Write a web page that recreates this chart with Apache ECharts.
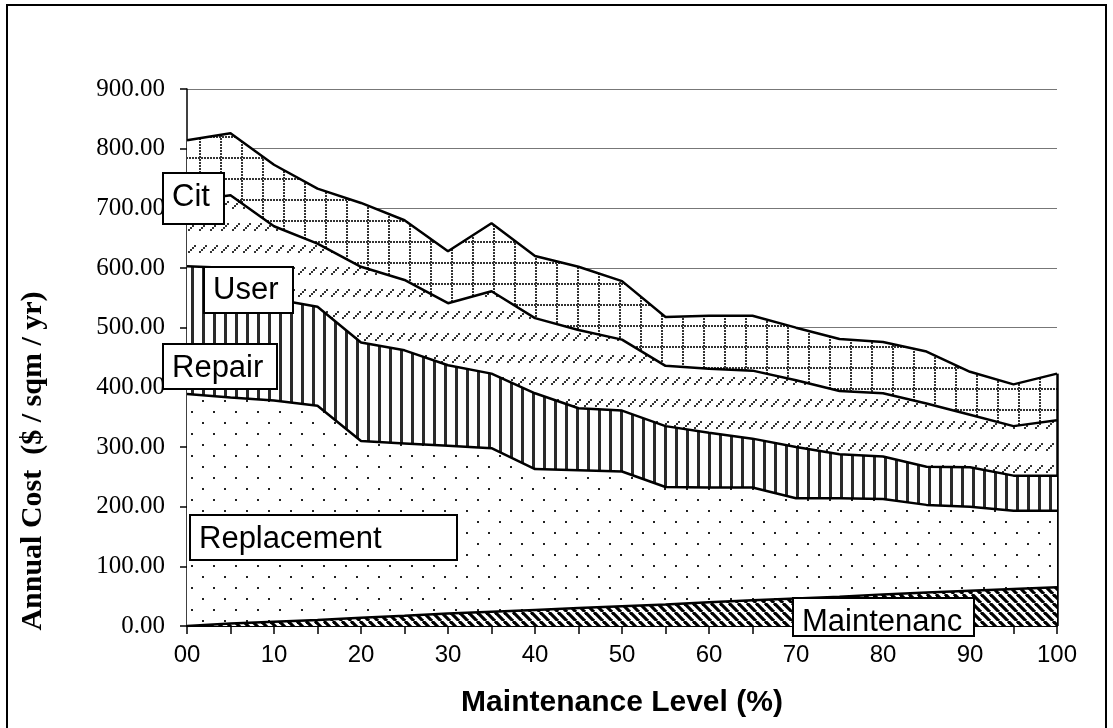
<!DOCTYPE html>
<html>
<head>
<meta charset="utf-8">
<script src="https://cdn.jsdelivr.net/npm/echarts@6/dist/echarts.min.js"></script>
<style>
html, body { margin: 0; padding: 0; background: #fff; }
#chart { width: 1113px; height: 728px; }
</style>
</head>
<body>
<div id="chart"></div>
<script>
// 数据
var levels = ['00','05','10','15','20','25','30','35','40','45','50','55','60','65','70','75','80','85','90','95','100'];
var yTickLabels = ['0.00','100.00','200.00','300.00','400.00','500.00','600.00','700.00','800.00','900.00'];
var maintenance = [0, 4, 7, 10, 14, 17, 21, 24, 27, 30, 33, 36, 40, 43, 46, 49, 53, 56, 59, 62, 65];
var replacement = [389, 379, 371, 359, 296, 289, 281, 274, 236, 231, 226, 197, 192, 189, 168, 165, 160, 147, 141, 131, 128];
var repair = [214, 217, 170, 166, 165, 156, 135, 125, 127, 104, 102, 102, 92, 82, 86, 74, 71, 64, 66, 59, 59];
var user = [109, 122, 122, 106, 127, 118, 104, 138, 126, 131, 119, 101, 107, 114, 112, 106, 106, 106, 88, 83, 93];
var cit = [102, 104, 103, 92, 107, 100, 87, 114, 104, 106, 98, 82, 89, 92, 88, 87, 86, 87, 72, 70, 78];

(function() {
    // 填充图案
    function tile(w, h, draw) {
        var c = document.createElement('canvas');
        c.width = w; c.height = h;
        var g = c.getContext('2d');
        g.fillStyle = '#fff';
        g.fillRect(0, 0, w, h);
        draw(g);
        return { image: c, repeat: 'repeat' };
    }
    var stripes = tile(9, 9, function(g) {
        g.strokeStyle = '#000';
        g.lineWidth = 3.2;
        for (var i = -9; i <= 9; i += 9) {
            g.beginPath(); g.moveTo(i, 0); g.lineTo(i + 9, 9); g.stroke();
        }
    });
    var dots = tile(22, 22, function(g) {
        g.fillStyle = '#222';
        g.fillRect(4, 4, 2, 2);
        g.fillRect(15, 15, 2, 2);
    });
    var vlines = tile(11, 4, function(g) {
        g.fillStyle = '#2a2a2a';
        g.fillRect(4, 0, 3, 4);
    });
    var dashes = tile(11, 22, function(g) {
        g.fillStyle = '#333';
        g.fillRect(1, 9, 2, 2);
        g.fillRect(3, 7, 2, 2);
        g.fillRect(5, 5, 2, 2);
        g.fillRect(7, 3, 2, 2);
    });
    var grid = tile(21, 21, function(g) {
        g.fillStyle = '#333';
        for (var i = 0; i < 21; i += 3) {
            g.fillRect(i, 10, 2, 2);
            g.fillRect(10, i, 2, 2);
        }
    });

    function area(name, data, pattern, z) {
        return {
            name: name,
            type: 'line',
            stack: 'cost',
            data: data,
            symbol: 'none',
            silent: true,
            z: z,
            lineStyle: { color: '#000', width: 2.5 },
            areaStyle: { color: pattern, opacity: 1 }
        };
    }

    var last = levels.length - 1;
    var total = maintenance[last] + replacement[last] + repair[last] + user[last] + cit[last];

    var series = [
        area('Maintenance', maintenance, stripes, 7),
        area('Replacement', replacement, dots, 6),
        area('Repair', repair, vlines, 5),
        area('User', user, dashes, 4),
        area('Cit', cit, grid, 3)
    ];
    // 右侧竖边
    series[0].markLine = {
        silent: true,
        symbol: ['none', 'none'],
        label: { show: false },
        lineStyle: { color: '#000', width: 2.5, type: 'solid' },
        data: [[{ coord: [levels[last], 0] }, { coord: [levels[last], total] }]]
    };

    // 标签框
    function box(text, x, y, w, h, ty) {
        return [
            { type: 'rect', z: 100, shape: { x: x, y: y, width: w, height: h },
              style: { fill: '#fff', stroke: '#000', lineWidth: 2 } },
            { type: 'text', z: 101, x: x + 9, y: ty,
              style: { text: text, fill: '#000', font: '31px "Liberation Sans"', verticalAlign: 'middle' } }
        ];
    }

    var myChart = echarts.init(document.getElementById('chart'));
    var option = {
        animation: false,
        backgroundColor: '#fff',
        grid: { left: 187, right: 56, top: 89, bottom: 102, containLabel: false, outerBoundsMode: 'none' },
        xAxis: {
            type: 'category',
            data: levels,
            boundaryGap: false,
            axisLine: { lineStyle: { color: '#000', width: 2 } },
            axisTick: { show: true, interval: 0, length: 8, lineStyle: { color: '#000', width: 1.5 } },
            axisLabel: { interval: 1, color: '#000', fontFamily: 'Liberation Sans', fontSize: 24, margin: 17 },
            splitLine: { show: false },
            name: 'Maintenance Level (%)',
            nameLocation: 'middle',
            nameGap: 62,
            nameTextStyle: { color: '#000', fontFamily: 'Liberation Sans', fontWeight: 'bold', fontSize: 30 }
        },
        yAxis: {
            type: 'value',
            min: 0,
            max: 900,
            interval: 100,
            axisLine: { show: true, lineStyle: { color: '#000', width: 1.5 } },
            axisTick: { show: true, length: 7, lineStyle: { color: '#000', width: 1.5 } },
            axisLabel: {
                color: '#000', fontFamily: 'Liberation Serif', fontSize: 25, margin: 22,
                formatter: function(v) { return yTickLabels[Math.round(v / 100)]; }
            },
            splitLine: { lineStyle: { color: '#777', width: 1 } }
        },
        series: series,
        graphic: [
            { type: 'rect', z: 90, shape: { x: 7, y: 5, width: 1099, height: 740 },
              style: { fill: 'none', stroke: '#000', lineWidth: 2 } },
            { type: 'text', z: 90, x: 33, y: 461, rotation: Math.PI / 2,
              style: { text: 'Annual Cost  ($ / sqm / yr)', fill: '#000', font: 'bold 30px "Liberation Serif"',
                       align: 'center', verticalAlign: 'middle' } }
        ]
        .concat(box('Cit', 163, 173, 61, 51, 197))
        .concat(box('User', 204, 267, 89, 46, 290))
        .concat(box('Repair', 163, 344, 114, 45, 368))
        .concat(box('Replacement', 190, 515, 267, 45, 539))
        .concat(box('Maintenanc', 793, 598, 181, 38, 622))
    };
    myChart.setOption(option);
})();
</script>
</body>
</html>
